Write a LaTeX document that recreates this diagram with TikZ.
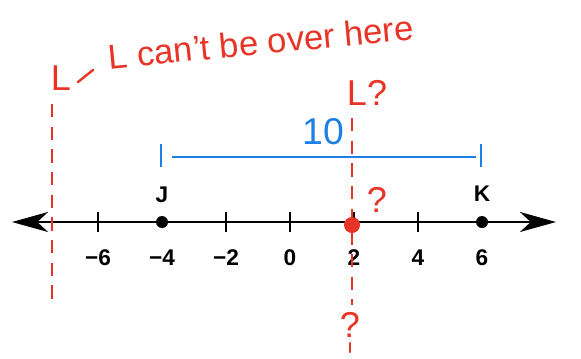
\documentclass[tikz,border=0pt]{standalone}
\usepackage{fontspec}
\setmainfont{Liberation Sans}
\usepackage{tikz}
\usetikzlibrary{arrows.meta, positioning}
\definecolor{penred}{RGB}{232,52,38}
\definecolor{segblue}{RGB}{30,128,228}
\tikzset{
  axis/.style  ={line width=1.6pt, {Stealth[length=27pt, width=15pt, inset=8pt]}-{Stealth[length=27pt, width=15pt, inset=8pt]}},
  tck/.style   ={line width=1.6pt},
  num/.style   ={font=\bfseries\fontsize{17}{17}\selectfont, inner sep=0pt},
  dot/.style   ={circle, fill=black, inner sep=0pt, minimum size=9pt},
  seg/.style   ={draw=segblue, line width=2.2pt},
  guess/.style ={draw=penred, line width=1.8pt, dash pattern=on 10pt off 7pt},
  pen/.style   ={draw=penred, line width=1.8pt, line cap=round},
  scrawl/.style={text=penred, font=\fontsize{26}{26}\selectfont, inner sep=0pt},
  bigscrawl/.style={scrawl, font=\fontsize{27}{27}\selectfont},
}

\begin{document}
\begin{tikzpicture}[x=0.75pt, y=-0.75pt]
  \useasboundingbox (0,0) rectangle (581,358);
  \coordinate (lend) at (12,222);
  \coordinate (rend) at (556,222);
  \draw[axis] (lend) -- (rend);
  \foreach \n in {-6,-2,0,2,4}
    \draw[tck] (290+32*\n,212) -- (290+32*\n,232);
  \foreach \n/\t in {-6/−6, -4/−4, -2/−2, 0/0, 2/2, 4/4, 6/6}
    \node[num] (n\n) at (290+32*\n,258) {\t};
  \node[dot] (j) at (162,222) {};
  \node[dot] (k) at (482,222) {};
  \node[num] (jl) at (162,195) {J};
  \node[num] (kl) at (482,194) {K};
  \coordinate (sa) at (172,157);
  \coordinate (sb) at (476,157);
  \draw[seg] (161,144) -- (161,167);
  \draw[seg] (481,144) -- (481,167);
  \draw[seg] (sa) -- (sb);
  \node[text=segblue, font=\fontsize{28}{28}\selectfont, inner sep=0pt] (len) at (323,132) {10};
  \coordinate (wa) at (52,104);
  \coordinate (wb) at (52,300);
  \draw[guess] (wa) -- (wb);
  \node[bigscrawl] (la) at (61,78) {L};
  \coordinate (ha) at (78,82);
  \coordinate (hb) at (93,70);
  \draw[pen] (ha) -- (hb);
  \node[scrawl, rotate=5.5] (note) at (261,42) {L can't be over here};
  \node[bigscrawl] (lq) at (367,93) {L?};
  \coordinate (ga) at (352,118);
  \coordinate (gb) at (352,305);
  \draw[guess] (ga) -- (gb);
  \node[circle, fill=penred, inner sep=0pt, minimum size=12pt] (l) at (352,225) {};
  \node[bigscrawl] (q1) at (377,200) {?};
  \node[bigscrawl] (q2) at (350,325) {?};
  \coordinate (gc) at (350,343);
  \coordinate (gd) at (350,352);
  \draw[pen] (gc) -- (gd);
\end{tikzpicture}
\end{document}
